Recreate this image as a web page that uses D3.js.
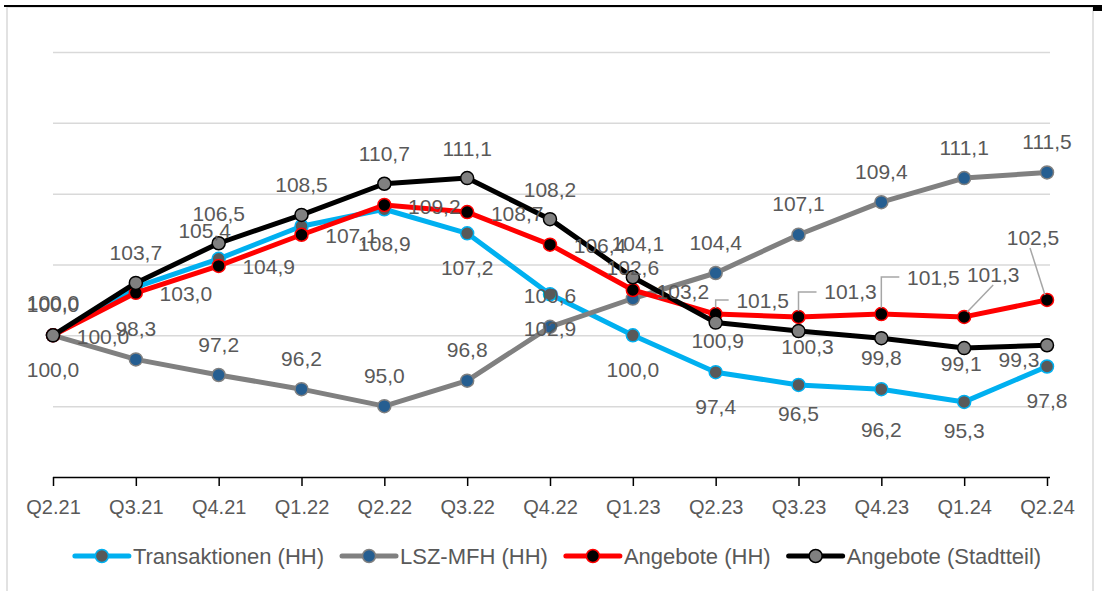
<!DOCTYPE html>
<html>
<head>
<meta charset="utf-8">
<script src="https://cdn.jsdelivr.net/npm/d3@7"></script>
<style>
  body { margin: 0; background: #fff; }
  text { font-family: "Liberation Sans", Arial, sans-serif; fill: #595959; }
</style>
</head>
<body>
<div id="chart"></div>
<script>
// chart data
var quarters = ["Q2.21", "Q3.21", "Q4.21", "Q1.22", "Q2.22", "Q3.22", "Q4.22", "Q1.23", "Q2.23", "Q3.23", "Q4.23", "Q1.24", "Q2.24"];
var transaktionen = [100.0, 103.4, 105.4, 107.7, 108.9, 107.2, 102.9, 100.0, 97.4, 96.5, 96.2, 95.3, 97.8];
var lszMfh = [100.0, 98.3, 97.2, 96.2, 95.0, 96.8, 100.6, 102.6, 104.4, 107.1, 109.4, 111.1, 111.5];
var angeboteHH = [100.0, 103.0, 104.9, 107.1, 109.2, 108.7, 106.4, 103.2, 101.5, 101.3, 101.5, 101.3, 102.5];
var angeboteStadtteil = [100.0, 103.7, 106.5, 108.5, 110.7, 111.1, 108.2, 104.1, 100.9, 100.3, 99.8, 99.1, 99.3];
var seriesNames = ["Transaktionen (HH)", "LSZ-MFH (HH)", "Angebote (HH)", "Angebote (Stadtteil)"];
var gridValues = [95, 100, 105, 110, 115, 120];

var svgWidth = 1102;
var svgHeight = 591;

var svg = d3.select("#chart")
  .append("svg")
  .attr("width", svgWidth)
  .attr("height", svgHeight);

// frame
svg.append("rect")
  .attr("x", 7).attr("y", 7)
  .attr("width", 1086).attr("height", 600)
  .attr("fill", "none")
  .attr("stroke", "#d9d9d9")
  .attr("stroke-width", 1.5);
svg.append("line")
  .attr("x1", 4).attr("x2", 1096)
  .attr("y1", 6).attr("y2", 6)
  .attr("stroke", "#000")
  .attr("stroke-width", 2);
svg.append("rect")
  .attr("x", 1093).attr("y", 5)
  .attr("width", 9).attr("height", 6)
  .attr("fill", "#000");

var x = d3.scalePoint()
  .domain(quarters)
  .range([53, 1047]);

var y = d3.scaleLinear()
  .domain([90, 120])
  .range([477, 52]);

// gridlines
var grid = svg.append("g")
  .attr("transform", "translate(53,0)")
  .call(d3.axisLeft(y).tickValues(gridValues).tickSize(-(1050 - 53)).tickFormat(""));
grid.select(".domain").remove();
grid.selectAll("line").attr("stroke", "#d9d9d9").attr("stroke-width", 1.5);

// x axis
var xAxis = svg.append("g")
  .attr("transform", "translate(0,477)")
  .call(d3.axisBottom(x).tickSizeInner(9).tickSizeOuter(0).tickPadding(14));
xAxis.select(".domain").attr("d", "M53,0.5H1050").attr("stroke", "#000").attr("stroke-width", 1.5);
xAxis.selectAll("line").attr("stroke", "#000").attr("stroke-width", 1.5);
xAxis.selectAll("text")
  .style("font-size", "20px")
  .attr("fill", "#595959");

var fmt = function(v) { return d3.format(".1f")(v).replace(".", ","); };

var series = [
  { name: seriesNames[0], values: transaktionen, line: "#00b0f0", fill: "#595959", stroke: "#00b0f0",
    label: { dx: 0, dy: 34 }, skip: [1, 3],
    over: { 2: { dx: -14, dy: -28 }, 9: { dx: 0, dy: 29 }, 10: { dx: 0, dy: 40 }, 11: { dx: 0, dy: 29 } } },
  { name: seriesNames[1], values: lszMfh, line: "#808080", fill: "#255e91", stroke: "#808080",
    label: { dx: 0, dy: -31 }, skip: [], over: {} },
  { name: seriesNames[2], values: angeboteHH, line: "#ff0000", fill: "#000000", stroke: "#ff0000",
    label: { dx: 50, dy: 1 }, skip: [],
    over: {
      8: { dx: 47, dy: -14, leader: "elbow" },
      9: { dx: 52, dy: -25, leader: "elbow" },
      10: { dx: 52, dy: -37, leader: "elbow" },
      11: { dx: 29, dy: -42, leader: "straight" },
      12: { dx: -14, dy: -62, leader: "straight" }
    } },
  { name: seriesNames[3], values: angeboteStadtteil, line: "#000000", fill: "#808080", stroke: "#000000",
    label: { dx: 0, dy: -30 }, skip: [],
    over: {
      0: { dx: 0, dy: -33 },
      7: { dx: 5, dy: -34 },
      8: { dx: 2, dy: 18 },
      9: { dx: 9, dy: 15 },
      10: { dx: 0, dy: 19 },
      11: { dx: -3, dy: 15 },
      12: { dx: -28, dy: 14 }
    } }
];

var lineGen = d3.line()
  .x(function(d, i) { return x(quarters[i]); })
  .y(function(d) { return y(d); });

var plot = svg.append("g");

series.forEach(function(s) {
  plot.append("path")
    .datum(s.values)
    .attr("d", lineGen)
    .attr("fill", "none")
    .attr("stroke", s.line)
    .attr("stroke-width", 5)
    .attr("stroke-linejoin", "round")
    .attr("stroke-linecap", "round");

  plot.selectAll(null)
    .data(s.values)
    .enter()
    .append("circle")
    .attr("cx", function(d, i) { return x(quarters[i]); })
    .attr("cy", function(d) { return y(d); })
    .attr("r", 6.5)
    .attr("fill", s.fill)
    .attr("stroke", s.stroke)
    .attr("stroke-width", 1.5);
});

// data labels
var labelGroup = svg.append("g");
series.forEach(function(s) {
  s.values.forEach(function(v, i) {
    if (s.skip.indexOf(i) >= 0) return;
    var o = s.over[i] || s.label;
    var px = x(quarters[i]);
    var py = y(v);
    var lx = px + o.dx;
    var ly = py + o.dy;
    if (o.leader === "elbow") {
      labelGroup.append("path")
        .attr("d", "M" + px + "," + (py - 6) + "V" + ly + "H" + (lx - 34))
        .attr("fill", "none")
        .attr("stroke", "#a6a6a6")
        .attr("stroke-width", 1.5);
    } else if (o.leader === "straight") {
      var ex = o.dx > 0 ? lx : lx - 3;
      labelGroup.append("path")
        .attr("d", "M" + (px + (o.dx > 0 ? 3 : -2)) + "," + (py - 5) + "L" + ex + "," + (ly + 10))
        .attr("fill", "none")
        .attr("stroke", "#a6a6a6")
        .attr("stroke-width", 1.5);
    }
    labelGroup.append("text")
      .attr("x", lx)
      .attr("y", ly)
      .attr("text-anchor", "middle")
      .attr("dominant-baseline", "central")
      .style("font-size", "21px")
      .text(fmt(v));
  });
});

// legend
var legend = svg.append("g").attr("transform", "translate(0,556)");
var items = legend.selectAll("g")
  .data(series)
  .enter()
  .append("g");

items.append("text")
  .attr("x", 58)
  .attr("dominant-baseline", "central")
  .style("font-size", "22px")
  .text(function(d) { return d.name; });

var widths = [];
items.each(function() {
  widths.push(58 + d3.select(this).select("text").node().getComputedTextLength());
});
var gap = 18;
var total = d3.sum(widths) + gap * (widths.length - 1);
var cursor = 558 - total / 2;
items.attr("transform", function(d, i) {
  var t = "translate(" + cursor + ",0)";
  cursor += widths[i] + gap;
  return t;
});

items.append("line")
  .attr("x1", 0).attr("x2", 54)
  .attr("y1", 0).attr("y2", 0)
  .attr("stroke", function(d) { return d.line; })
  .attr("stroke-width", 5)
  .attr("stroke-linecap", "round");

items.append("circle")
  .attr("cx", 27).attr("cy", 0)
  .attr("r", 6.5)
  .attr("fill", function(d) { return d.fill; })
  .attr("stroke", function(d) { return d.stroke; })
  .attr("stroke-width", 1.5);
</script>
</body>
</html>
